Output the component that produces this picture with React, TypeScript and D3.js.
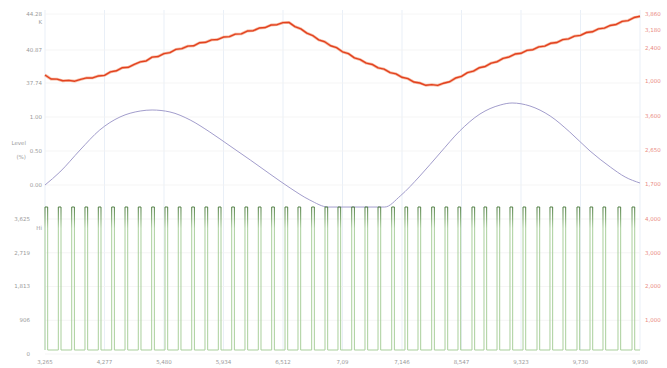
import React from "react";
import * as d3 from "d3";

// Shared horizontal domain (sample index 0..100)
const xTickValues = [0, 10, 20, 30, 40, 50, 60, 70, 80, 90, 100];
const xTickLabels = ["3,265", "4,277", "5,480", "5,934", "6,512", "7,09", "7,146", "8,547", "9,323", "9,730", "9,980"];

// Upper trace: temperature-like reading, one value per sample step
const redX = d3.range(0, 101);
const redValues = [
  38.50, 38.12, 38.11, 37.95, 37.99, 37.91, 38.09, 38.22, 38.22, 38.41,
  38.46, 38.79, 38.90, 39.19, 39.23, 39.50, 39.74, 39.83, 40.19, 40.25,
  40.53, 40.62, 40.93, 41.00, 41.24, 41.27, 41.56, 41.60, 41.83, 41.86,
  42.10, 42.14, 42.38, 42.40, 42.67, 42.70, 42.95, 43.00, 43.24, 43.27,
  43.47, 43.49, 43.09, 42.87, 42.47, 42.24, 41.83, 41.65, 41.27, 41.09,
  40.70, 40.52, 40.12, 39.95, 39.62, 39.50, 39.17, 39.05, 38.73, 38.60,
  38.28, 38.15, 37.83, 37.74, 37.52, 37.59, 37.51, 37.72, 37.86, 38.21,
  38.37, 38.73, 38.86, 39.19, 39.31, 39.63, 39.76, 40.08, 40.21, 40.49,
  40.56, 40.83, 40.90, 41.17, 41.24, 41.51, 41.58, 41.85, 41.93, 42.19,
  42.26, 42.53, 42.60, 42.87, 42.94, 43.20, 43.29, 43.58, 43.66, 43.95,
  44.07,
];

// Middle trace: slow oscillation, saturating at its floor
const purpleX = [0, 2.5, 5.9, 9.2, 12.6, 16.0, 18.0, 21.0, 24.4, 27.7, 31.1, 34.5, 37.8, 41.2, 44.5, 47.6,
  57.1, 59.7, 63.0, 66.4, 69.7, 73.1, 76.5, 78.5, 81.5, 84.9, 88.2, 91.6, 95.0, 97.5, 100];
const purpleValues = [0.000, 0.191, 0.515, 0.809, 1.000, 1.088, 1.103, 1.074, 0.956, 0.779, 0.574, 0.368, 0.162, -0.044, -0.221, -0.324,
  -0.324, -0.162, 0.132, 0.471, 0.794, 1.044, 1.176, 1.206, 1.162, 1.015, 0.779, 0.500, 0.265, 0.118, 0.029];

// Lower trace: pulse start positions
const pulseStarts = [
  0.00, 2.24, 4.49, 6.72, 8.96, 11.21, 13.45, 15.68, 17.93, 20.17, 22.40, 24.66, 26.89, 29.13, 31.38,
  33.61, 35.85, 38.10, 40.34, 42.52, 44.82, 47.06, 49.24, 51.55, 53.78, 55.97, 58.27, 60.50, 62.69, 64.99,
  67.23, 69.41, 71.76, 73.78, 75.97, 78.15, 80.34, 82.69, 84.87, 87.06, 89.41, 91.60, 93.78, 96.30, 98.66,
];
const pulseWidth = 0.45;

// Axis ticks
const topLeftTicks = [37.74, 40.87, 44.28];
const midLeftTicks = [0, 0.5, 1];
const bottomLeftTicks = [0, 906, 1813, 2719, 3625];
const topRightTicks = [1000, 2400, 3180, 3860];
const midRightTicks = [1700, 2650, 3600];
const bottomRightTicks = [1000, 2000, 3000, 4000];

const W = 667;
const H = 368;
const L = 45;
const R = 640;

export default function App() {
  const x = d3.scaleLinear().domain([0, 100]).range([L, R]);

  const yTop = d3.scaleLinear().domain([37.74, 40.87]).range([83, 50]);
  const yMid = d3.scaleLinear().domain([0, 1]).range([185, 117]);
  const yPulse = d3.scaleLinear().domain([0, 1]).range([350, 207]);
  const yBottomAxis = d3.scaleLinear().domain([0, 3625]).range([354, 219]);
  const yTopR = d3.scaleLinear().domain([1000, 3860]).range([81, 14]);
  const yMidR = d3.scaleLinear().domain([1700, 3600]).range([184, 116]);
  const yBotR = d3.scaleLinear().domain([1000, 4000]).range([320, 219]);

  const redPts: [number, number][] = redX.map((v, i) => [v, redValues[i]]);
  const redLine = d3.line<[number, number]>().x((d) => x(d[0])).y((d) => yTop(d[1]));

  const purplePts: [number, number][] = purpleX.map((v, i) => [v, purpleValues[i]]);
  const purpleLine = d3
    .line<[number, number]>()
    .x((d) => x(d[0]))
    .y((d) => yMid(d[1]))
    .curve(d3.curveMonotoneX);

  // Build the square-wave as a step sequence
  const pulsePts: [number, number][] = [];
  pulseStarts.forEach((s) => {
    pulsePts.push([s, 0], [s, 1], [s + pulseWidth, 1], [s + pulseWidth, 0]);
  });
  pulsePts.push([100, 0]);
  const pulseLine = d3.line<[number, number]>().x((d) => x(d[0])).y((d) => yPulse(d[1]));

  const f2 = d3.format(".2f");
  const fc = d3.format(",");

  const leftText = { fontSize: 5.5, fill: "#9a9a9a", textAnchor: "end" as const, fontFamily: "DejaVu Sans, sans-serif" };
  const rightText = { fontSize: 5.5, fill: "#ea8b83", textAnchor: "start" as const, fontFamily: "DejaVu Sans, sans-serif" };

  const hGrid = (ys: number[], key: string) =>
    ys.map((yy, i) => <line key={key + i} x1={L} x2={R} y1={yy} y2={yy} stroke="#f3f3f3" strokeWidth={0.8} />);

  return (
    <div style={{ position: "fixed", left: 0, top: 0 }}>
      <svg width={W} height={H} style={{ display: "block", background: "#fff" }}>
        <defs>
          <linearGradient id="pulseGrad" gradientUnits="userSpaceOnUse" x1={0} y1={207} x2={0} y2={350}>
            <stop offset="0" stopColor="#4f7d42" />
            <stop offset="0.08" stopColor="#76a466" />
            <stop offset="0.15" stopColor="#a9cf9b" />
            <stop offset="1" stopColor="#a9cf9b" />
          </linearGradient>
          <clipPath id="midClip">
            <rect x={L} y={95} width={R - L} height={113} />
          </clipPath>
        </defs>

        {/* vertical grid */}
        {xTickValues.map((t) => (
          <line key={"vg" + t} x1={x(t)} x2={x(t)} y1={10} y2={350} stroke="#e6edf6" strokeWidth={0.9} />
        ))}

        {/* horizontal grid */}
        {hGrid(topLeftTicks.map(yTop), "gt")}
        {hGrid(midLeftTicks.map(yMid), "gm")}
        {hGrid(bottomLeftTicks.map(yBottomAxis), "gb")}

        {/* upper trace */}
        <path d={redLine(redPts) ?? ""} fill="none" stroke="#f29a78" strokeWidth={2.8} strokeOpacity={0.7} strokeLinejoin="round" />
        <path d={redLine(redPts) ?? ""} fill="none" stroke="#e2411f" strokeWidth={1.4} strokeLinejoin="round" />

        {/* middle trace */}
        <path d={purpleLine(purplePts) ?? ""} fill="none" stroke="#a29dcc" strokeWidth={1} clipPath="url(#midClip)" />

        {/* lower trace */}
        <path d={pulseLine(pulsePts) ?? ""} fill="none" stroke="url(#pulseGrad)" strokeWidth={1} />

        {/* left axes */}
        {topLeftTicks.map((t) => (
          <text key={"tl" + t} x={42} y={yTop(t) + 2} {...leftText}>{f2(t)}</text>
        ))}
        <text x={42} y={24} {...leftText}>K</text>
        {midLeftTicks.map((t) => (
          <text key={"ml" + t} x={42} y={yMid(t) + 2} {...leftText}>{f2(t)}</text>
        ))}
        <text x={26} y={145} {...leftText}>Level</text>
        <text x={26} y={159} {...leftText}>(%)</text>
        {bottomLeftTicks.map((t) => (
          <text key={"bl" + t} x={30} y={yBottomAxis(t) + 2} {...leftText}>{fc(t)}</text>
        ))}
        <text x={42} y={230} {...leftText}>Hi</text>

        {/* right axes */}
        {topRightTicks.map((t) => (
          <text key={"tr" + t} x={645} y={yTopR(t) + 2} {...rightText}>{fc(t)}</text>
        ))}
        {midRightTicks.map((t) => (
          <text key={"mr" + t} x={645} y={yMidR(t) + 2} {...rightText}>{fc(t)}</text>
        ))}
        {bottomRightTicks.map((t) => (
          <text key={"br" + t} x={645} y={yBotR(t) + 2} {...rightText}>{fc(t)}</text>
        ))}

        {/* x axis labels */}
        {xTickValues.map((t, i) => (
          <text key={"xl" + t} x={x(t)} y={364} fontSize={5.5} fill="#9a9a9a" textAnchor="middle" fontFamily="DejaVu Sans, sans-serif">
            {xTickLabels[i]}
          </text>
        ))}
      </svg>
    </div>
  );
}
